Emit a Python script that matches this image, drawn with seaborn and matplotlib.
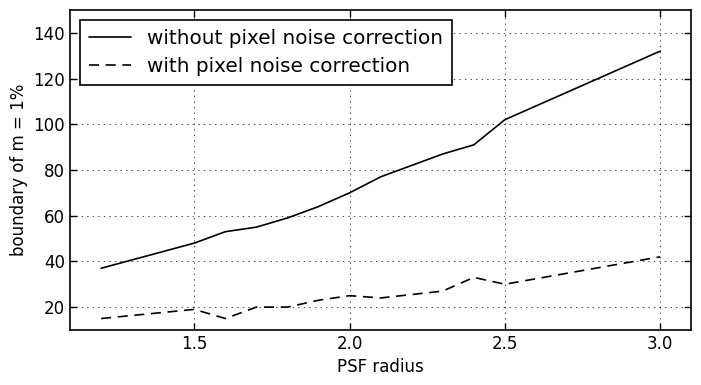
import matplotlib
matplotlib.use("Agg")
import matplotlib.pyplot as plt
import numpy as np
import pandas as pd
import seaborn as sns

# PSF radius and boundary values
psf_radius = [1.2, 1.5, 1.6, 1.7, 1.8, 1.9, 2.0, 2.1, 2.3, 2.4, 2.5, 3.0]
without_corr = [37, 48, 53, 55, 59, 64, 70, 77, 87, 91, 102, 132]
with_corr = [15, 19, 15, 20, 20, 23, 25, 24, 27, 33, 30, 42]

labels = ["without pixel noise correction", "with pixel noise correction"]

df = pd.DataFrame({
    "PSF radius": psf_radius * 2,
    "boundary": without_corr + with_corr,
    "series": [labels[0]] * len(psf_radius) + [labels[1]] * len(psf_radius),
})

sns.set_style("ticks")
plt.rcParams["font.family"] = ["DejaVu Sans"]
plt.rcParams["text.color"] = "black"
plt.rcParams["axes.labelcolor"] = "black"

fig = plt.figure(figsize=(7.01, 3.85), dpi=100)
ax = fig.add_axes([0.1, 0.143, 0.886, 0.831])

sns.lineplot(data=df, x="PSF radius", y="boundary", style="series",
             dashes={labels[0]: "", labels[1]: (6, 4)},
             color="black", linewidth=1.2, ax=ax)

ax.set_xlim(1.1, 3.1)
ax.set_ylim(10, 150)
ax.set_xticks([1.5, 2.0, 2.5, 3.0])
ax.set_yticks([20, 40, 60, 80, 100, 120, 140])
ax.set_xlabel("PSF radius", fontsize=12)
ax.set_ylabel("boundary of m = 1%", fontsize=12)
ax.tick_params(direction="in", top=True, right=True, labelsize=12,
               length=5, width=1, color="black", labelcolor="black")
ax.grid(True, color="black", linestyle=(0, (2, 6)), linewidth=0.5)
for s in ax.spines.values():
    s.set_color("black")
    s.set_linewidth(1.2)

leg = ax.legend(loc="upper left", fontsize=14.4, frameon=True, fancybox=False,
                handlelength=2.1, borderpad=0.45, labelspacing=0.45,
                handletextpad=0.8, borderaxespad=0.5)
leg.get_frame().set_edgecolor("black")
leg.get_frame().set_linewidth(1.2)
leg.get_frame().set_alpha(1)

fig.savefig("out.png", dpi=100)
